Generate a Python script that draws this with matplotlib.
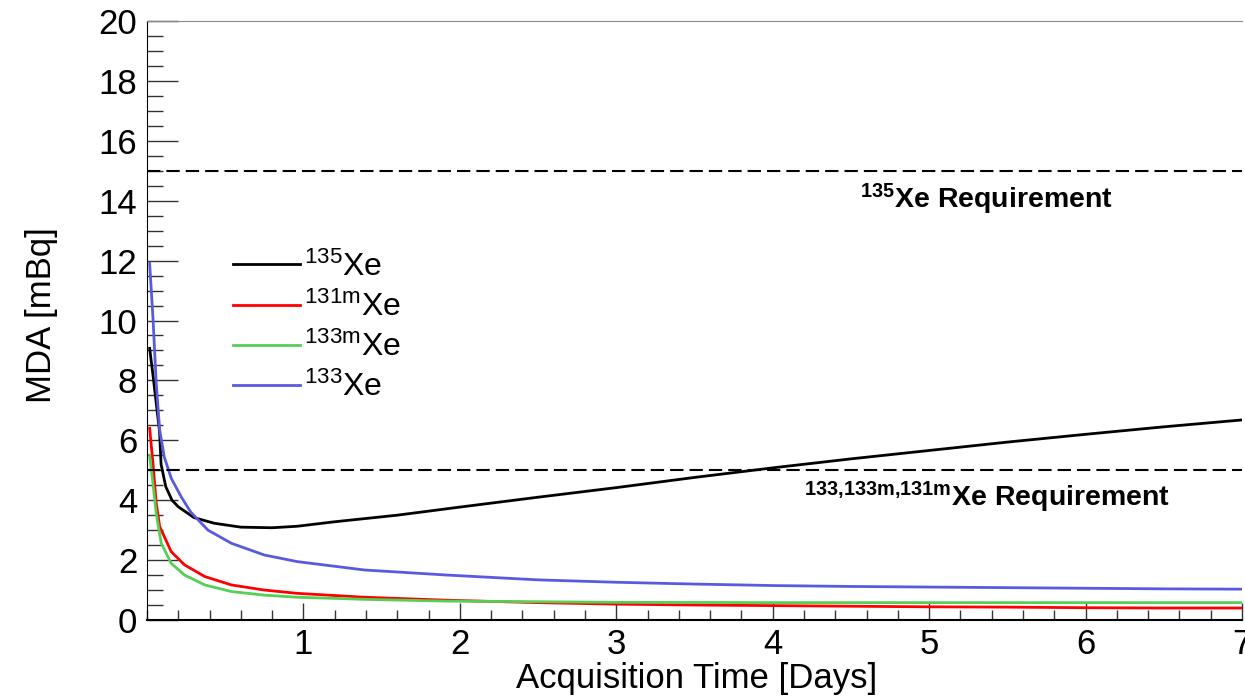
import numpy as np
import matplotlib
matplotlib.use('Agg')
import matplotlib.pyplot as plt
from matplotlib.ticker import MultipleLocator

plt.rcParams.update({
    'font.family': ['Liberation Sans', 'DejaVu Sans'],
    'mathtext.fontset': 'custom',
    'mathtext.rm': 'Liberation Sans',
    'mathtext.it': 'Liberation Sans:italic',
    'mathtext.bf': 'Liberation Sans:bold',
})

# ==== MDA vs acquisition time ====
t_xe135 = [0.017, 0.04, 0.06, 0.08, 0.09, 0.12, 0.16, 0.2, 0.3, 0.43, 0.6, 0.8,
           0.96, 1.2, 1.6, 2.0, 2.5, 3.0, 3.5, 4.0, 4.5, 5.0, 5.5, 6.0, 6.5, 7.0]
mda_xe135 = [9.07, 8.1, 7.2, 6.3, 5.2, 4.45, 4.0, 3.78, 3.42, 3.23, 3.1, 3.08,
             3.13, 3.28, 3.5, 3.77, 4.1, 4.42, 4.76, 5.08, 5.38, 5.66, 5.94, 6.2, 6.45, 6.68]

t_xe131m = [0.017, 0.038, 0.059, 0.081, 0.155, 0.24, 0.37, 0.54, 0.75, 0.96, 1.39,
            1.92, 2.5, 3.0, 3.5, 4.0, 4.5, 5.0, 5.5, 6.0, 6.5, 7.0]
mda_xe131m = [6.4, 5.23, 3.9, 3.12, 2.28, 1.84, 1.45, 1.17, 1.0, 0.89, 0.76,
              0.66, 0.58, 0.53, 0.5, 0.48, 0.46, 0.44, 0.43, 0.41, 0.40, 0.40]

t_xe133m = [0.017, 0.038, 0.059, 0.091, 0.155, 0.24, 0.37, 0.54, 0.75, 0.96, 1.39,
            1.92, 2.5, 3.0, 4.0, 5.0, 6.0, 7.0]
mda_xe133m = [5.5, 4.56, 3.56, 2.56, 1.89, 1.5, 1.17, 0.95, 0.83, 0.76, 0.69,
              0.63, 0.61, 0.59, 0.58, 0.58, 0.58, 0.58]

t_xe133 = [0.017, 0.038, 0.059, 0.081, 0.11, 0.155, 0.22, 0.28, 0.39, 0.54, 0.75,
           0.96, 1.39, 1.92, 2.5, 3.0, 3.5, 4.0, 4.5, 5.0, 5.5, 6.0, 6.5, 7.0]
mda_xe133 = [11.9, 10.1, 7.9, 6.35, 5.45, 4.73, 4.1, 3.6, 3.0, 2.56, 2.17,
             1.95, 1.67, 1.5, 1.34, 1.26, 1.2, 1.15, 1.12, 1.1, 1.08, 1.06, 1.04, 1.03]

req_xe135 = 15
req_other = 5

labels = [r'$^{\mathrm{135}}$Xe', r'$^{\mathrm{131m}}$Xe',
          r'$^{\mathrm{133m}}$Xe', r'$^{\mathrm{133}}$Xe']
colors = ['black', '#ff0000', '#55d055', '#5a5ae0']

fig = plt.figure(figsize=(12.45, 6.96), dpi=100)
ax = fig.add_axes([147/1245, 1 - 620/696, (1242 - 147)/1245, (620 - 21)/696])

series = [(t_xe135, mda_xe135), (t_xe131m, mda_xe131m),
          (t_xe133m, mda_xe133m), (t_xe133, mda_xe133)]
for (t, m), lab, c in zip(series, labels, colors):
    ax.plot(t, m, color=c, lw=2, label=lab)

for req in (req_xe135, req_other):
    ax.axhline(req, color='black', lw=1.5, dashes=(6.4, 2.9))

ax.text(4.56, 14.05, r'$\mathbf{^{135}}$Xe Requirement', fontsize=20.5,
        fontweight='bold', va='center', ha='left')
ax.text(4.2, 4.08, r'$\mathbf{^{133{,}133m{,}131m}}$Xe Requirement', fontsize=20.5,
        fontweight='bold', va='center', ha='left')

ax.set_xlim(0, 7)
ax.set_ylim(0, 20)
ax.xaxis.set_major_locator(MultipleLocator(1))
ax.xaxis.set_minor_locator(MultipleLocator(0.2))
ax.yaxis.set_major_locator(MultipleLocator(2))
ax.yaxis.set_minor_locator(MultipleLocator(0.5))
ax.set_xticks(range(1, 8))
ax.set_xticklabels([str(i) for i in range(1, 8)])

ax.tick_params(axis='y', which='major', direction='in', length=22, width=1,
               color='#333333', labelsize=25, pad=7)
ax.tick_params(axis='y', which='minor', direction='in', length=11.5, width=1,
               color='#333333')
ax.tick_params(axis='x', which='major', direction='in', length=12, width=1,
               color='#333333', labelsize=25, pad=6)
ax.tick_params(axis='x', which='minor', direction='in', length=7, width=1,
               color='#333333')

ax.spines['top'].set_color('#888888')
ax.spines['right'].set_visible(False)
ax.spines['bottom'].set_linewidth(1.5)

ax.set_xlabel('Acquisition Time [Days]', fontsize=25)
ax.set_ylabel('MDA [mBq]', fontsize=25)
ax.xaxis.set_label_coords((697 - 147)/1095, -(662 - 620)/599)
ax.yaxis.set_label_coords(-(147 - 58)/1095, (620 - 315)/599)

ax.legend(loc='upper left', bbox_to_anchor=(0.0665, 0.637), frameon=False,
          fontsize=23, handlelength=2.1, handletextpad=0.12, labelspacing=0.28,
          borderaxespad=0)

fig.savefig('out.png', dpi=100)
